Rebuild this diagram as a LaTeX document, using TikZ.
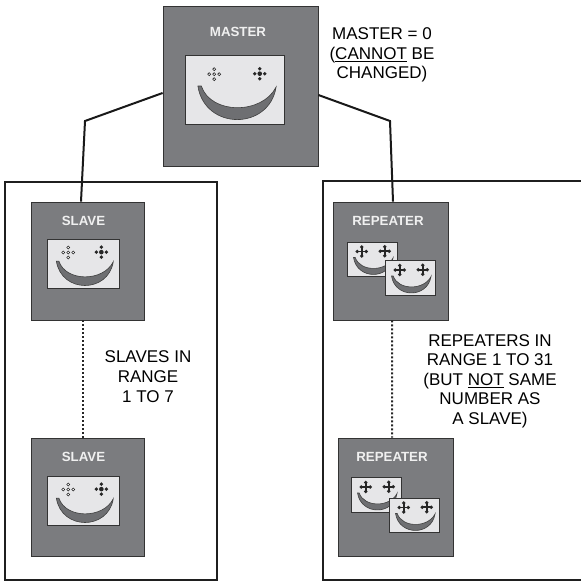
\documentclass[tikz,border=0pt]{standalone}
\usepackage{fontspec}
\setmainfont{Liberation Sans}
\begin{document}
\begin{tikzpicture}[x=1bp,y=-1bp,
  devbox/.style={draw=black!80,line width=0.8bp,fill=devgrey,inner sep=0pt},
  devlabel/.style={text=white!94!black,font=\bfseries\fontsize{13.3bp}{15bp}\selectfont,inner sep=0pt},
  screen/.style={draw=black!80,line width=0.8bp,fill=screengrey},
  mouth/.style={draw=black!75,line width=0.6bp,fill=mouthgrey},
  eyeline/.style={draw=black!85,line width=0.6bp},
  wire/.style={draw=black!90,line width=2bp},
  zone/.style={draw=black!88,line width=2bp},
  link/.style={draw=black!85,line width=2bp,dash pattern=on 2bp off 2bp},
  note/.style={align=center,inner sep=0pt,font=\fontsize{17bp}{19.5bp}\selectfont},
  pics/ringeye/.style={code={
    \foreach \p in {(0,0),(-5,0),(5,0),(0,-5),(0,5)}
      \draw[eyeline,fill=white] \p circle (1.5);
  }},
  pics/doteye/.style={code={
    \fill[black!85] (0,0) circle (2.3);
    \foreach \p in {(-5,0),(5,0),(0,-5),(0,5)}
      \fill[black!85] \p circle (1.9);
  }},
  pics/pluseye/.style={code={
    \draw[black!85,line width=1.7bp] (-4.5,0) -- (4.5,0) (0,-4.5) -- (0,4.5);
    \foreach \p in {(-4.5,0),(4.5,0),(0,-4.5),(0,4.5)}
      \fill[black!85] \p circle (1.9);
  }},
  pics/face/.style 2 args={code={
    \draw[screen] (-50,-34.5) rectangle (50,34.5);
    \pic at (-20.5,-16) {#1};
    \pic at (25.5,-16.5) {#2};
    \draw[mouth] (-37,-4) .. controls (-30,41) and (35,41) .. (42,-3)
                 .. controls (28,25) and (-24,25) .. (-33.5,-4) -- cycle;
  }}
]
\definecolor{devgrey}{HTML}{7B7C7F}
\definecolor{screengrey}{HTML}{E6E6E8}
\definecolor{mouthgrey}{HTML}{6E6F72}
\useasboundingbox (0,0) rectangle (581,583);

% network zones
\draw[zone] (5,182) rectangle (217,580);
\draw[zone] (585,181) -- (323,181) -- (323,580) -- (585,580);

% devices
\node[devbox,minimum width=155bp,minimum height=160bp] (master) at (240.5,86) {};
\node[devbox,minimum width=113bp,minimum height=118bp] (slaveA) at (87.5,261) {};
\node[devbox,minimum width=113bp,minimum height=118bp] (slaveB) at (87.5,497) {};
\node[devbox,minimum width=115bp,minimum height=118bp] (repA) at (390.5,261) {};
\node[devbox,minimum width=115bp,minimum height=118bp] (repB) at (395.5,497) {};

\node[devlabel] (masterlbl) at (238,32) {MASTER};
\node[devlabel] (slaveAlbl) at (83.5,221) {SLAVE};
\node[devlabel] (slaveBlbl) at (83.5,457) {SLAVE};
\node[devlabel] (repAlbl) at (388,221) {REPEATER};
\node[devlabel] (repBlbl) at (392,457) {REPEATER};

% screens
\pic[scale=0.99] at (234.5,90) {face={ringeye}{doteye}};
\pic[scale=0.72] at (83,264) {face={ringeye}{doteye}};
\pic[scale=0.72] at (83,501) {face={ringeye}{doteye}};
\pic[scale=0.5] at (372,259.5) {face={pluseye}{pluseye}};
\pic[scale=0.5] at (410,278) {face={pluseye}{pluseye}};
\pic[scale=0.5] at (376,495) {face={pluseye}{pluseye}};
\pic[scale=0.5] at (414,515.5) {face={pluseye}{pluseye}};

% bus wiring
\coordinate (bendL) at (85,121);
\coordinate (bendR) at (390,121);
\draw[wire] ([yshift=-7bp]master.west) -- (bendL) -- ([xshift=-6.5bp]slaveA.north);
\draw[wire] ([yshift=-9bp]master.east) -- (bendR) -- ([xshift=2.5bp]repA.north);
\draw[link] ([xshift=-4.5bp]slaveA.south) -- ([xshift=-4.5bp]slaveB.north);
\draw[link] ([xshift=1.5bp]repA.south) -- ([xshift=-3.5bp]repB.north);

% notes
\node[note] (masternote) at (382,55) {MASTER = 0\\(\underline{CANNOT} BE\\CHANGED)};
\node[note,font=\fontsize{17bp}{20bp}\selectfont] (slavenote) at (148,377) {SLAVES IN\\RANGE\\1 TO 7};
\node[note] (repnote) at (490,381) {REPEATERS IN\\RANGE 1 TO 31\\(BUT \underline{NOT} SAME\\NUMBER AS\\A SLAVE)};
\end{tikzpicture}
\end{document}
